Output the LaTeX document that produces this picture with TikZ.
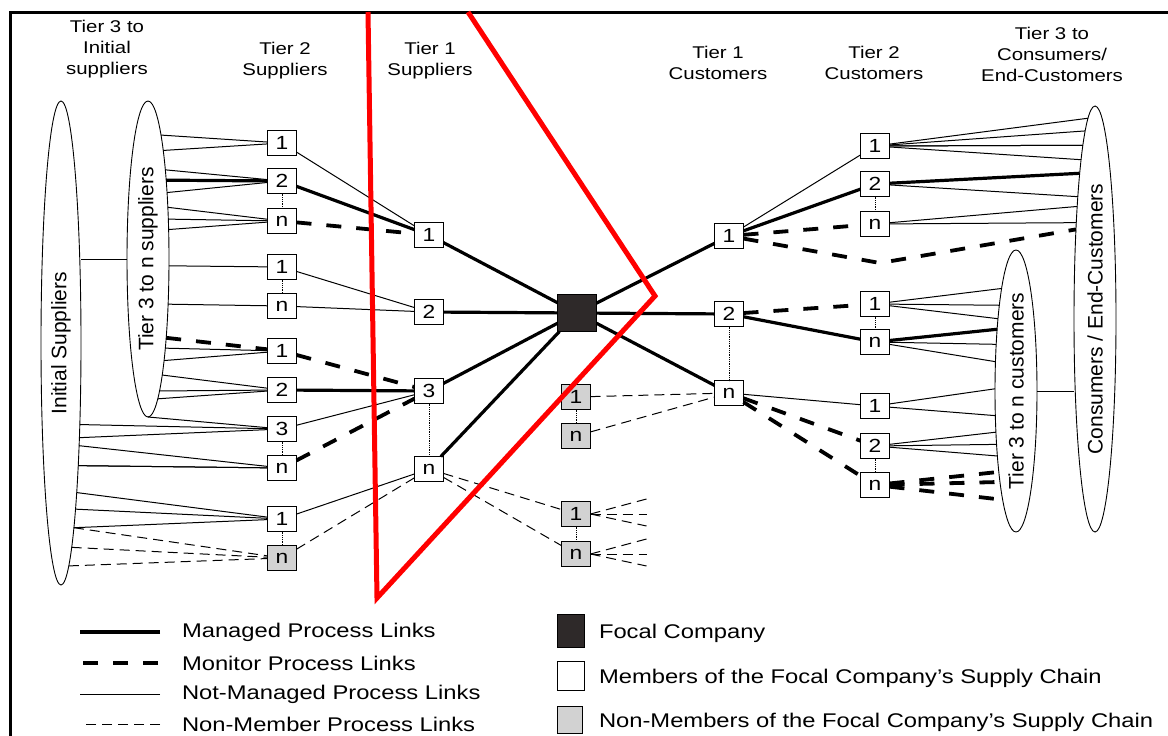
\documentclass[tikz,border=0pt]{standalone}
\usepackage{graphicx}
\usepackage{fontspec}
\setmainfont{Liberation Sans}[FakeStretch=1.2]
\newfontfamily\ellfont{Liberation Sans}
\usetikzlibrary{shapes.geometric}
\definecolor{focalgrey}{HTML}{2E2929}
\definecolor{nonmembergrey}{HTML}{D2D2D2}
\tikzset{every node/.style={inner sep=0pt, outer sep=0pt},
  member/.style={draw, fill=white, line width=0.9pt, minimum width=29pt, minimum height=25pt, font=\fontsize{19}{19}\selectfont},
  nonmember/.style={member, fill=nonmembergrey},
  focal/.style={draw, fill=focalgrey, minimum width=39pt, minimum height=37pt},
  tierset/.style={draw, ellipse, line width=0.9pt, minimum width=42pt, font=\ellfont\fontsize{21}{21}\selectfont},
  heading/.style={align=center, font=\fontsize{17}{21}\selectfont},
  legendtext/.style={anchor=west, font=\fontsize{19.8}{19.8}\selectfont},
  managed/.style={line width=3.2pt},
  monitor/.style={line width=3.8pt, dash pattern=on 15pt off 15pt},
  notmanaged/.style={line width=1pt},
  nonmemberlink/.style={line width=1pt, dash pattern=on 10pt off 6pt},
  tierdots/.style={line width=0.8pt, densely dotted}}

\begin{document}
\begin{tikzpicture}[x=1pt, y=-1pt,
  declare function={elang(\ey,\ea,\eb)=atan2(\ey,\ea*sqrt(1-(\ey/\eb)*(\ey/\eb)));}]
  \useasboundingbox (0,0) rectangle (1168,736);
  \draw[line width=3pt] (10,736) -- (10,12) -- (1168,12);

  % column headings
  \node[heading] (hinit) at (107,49) {Tier 3 to\\Initial\\suppliers};
  \node[heading] (hsup2) at (285,61) {Tier 2\\Suppliers};
  \node[heading] (hsup1) at (430,61) {Tier 1\\Suppliers};
  \node[heading] (hcus1) at (718,63) {Tier 1\\Customers};
  \node[heading] (hcus2) at (874,63) {Tier 2\\Customers};
  \node[heading] (hend) at (1052,54) {Tier 3 to\\Consumers/\\End-Customers};

  % tier sets
  \node[tierset, minimum width=40pt, minimum height=484pt] (isup) at (61,343) {\rotatebox{90}{Initial Suppliers}};
  \node[tierset, minimum height=316pt] (t3s) at (148,259) {\rotatebox{90}{Tier 3 to n suppliers}};
  \node[tierset, minimum height=282pt] (t3c) at (1016,391) {\rotatebox{90}{Tier 3 to n customers}};
  \node[tierset, minimum height=426pt] (cons) at (1095,319) {\rotatebox{90}{Consumers / End-Customers}};

  % companies
  \foreach \n/\t/\y in {s2a/1/143, s2b/2/181, s2c/n/221, s2d/1/267, s2e/n/306, s2f/1/351, s2g/2/390, s2h/3/429, s2i/n/468, s2j/1/519}
    \node[member] (\n) at (282,\y) {\t};
  \node[nonmember] (s2k) at (282,558) {n};
  \foreach \n/\t/\y in {s1a/1/235, s1b/2/312, s1c/3/391, s1d/n/469}
    \node[member] (\n) at (429,\y) {\t};
  \node[focal] (focal) at (577,313) {};
  \foreach \n/\t/\y in {g1/1/397, g2/n/436, g3/1/514, g4/n/554}
    \node[nonmember] (\n) at (576,\y) {\t};
  \foreach \n/\t/\y in {c1a/1/236, c1b/2/314, c1c/n/393}
    \node[member] (\n) at (729,\y) {\t};
  \foreach \n/\t/\y in {c2a/1/146, c2b/2/184, c2c/n/224, c2d/1/304, c2e/n/342, c2f/1/406, c2g/2/446, c2h/n/485}
    \node[member] (\n) at (875,\y) {\t};
  \coordinate (dip) at (880,263);

  % supplier side
  \draw[notmanaged] (t3s.west) -- (t3s.west -| isup.east);
  \foreach \b/\h in {s2a/131, s2a/113, s2b/93, s2b/69, s2c/53, s2c/40, s2c/30, s2d/-7, s2e/-47, s2f/-93, s2f/-103, s2g/-119, s2g/-132, s2g/-144} {
    \pgfmathsetmacro\ang{elang(\h,21,158)}
    \draw[notmanaged] (t3s.\ang) -- (\b);}
  \pgfmathsetmacro\ang{elang(79,21,158)}
  \draw[managed] (t3s.\ang) -- (s2b);
  \pgfmathsetmacro\ang{elang(-79,21,158)}
  \draw[monitor] (t3s.\ang) -- (s2f);
  \draw[notmanaged] (t3s.south) -- (s2h);
  \foreach \b/\h in {s2h/-86, s2h/-97, s2i/-110, s2i/-123, s2i/-133, s2j/-161, s2j/-175, s2j/-186} {
    \pgfmathsetmacro\ang{elang(\h,20,242)}
    \draw[notmanaged] (isup.\ang) -- (\b);}
  \foreach \h in {-201, -216, -229} {
    \pgfmathsetmacro\ang{elang(\h,20,242)}
    \draw[nonmemberlink] (isup.\ang) -- (s2k);}

  % links between companies
  \foreach \p/\q in {s2a/s1a, s2d/s1b, s2e/s1b, s2h/s1c, s2j/s1d, c1a/c2a, c1c/c2f}
    \draw[notmanaged] (\p) -- (\q);
  \foreach \p/\q in {s2b/s1a, s2g/s1c, s1a/focal, s1b/focal, s1c/focal, s1d/focal, focal/c1a, focal/c1b, focal/c1c, c1a/c2b, c1b/c2e}
    \draw[managed] (\p) -- (\q);
  \foreach \p/\q in {s2c/s1a, s2f/s1c, s2i/s1c, c1a/c2c, c1b/c2d, c1c/c2g, c1c/c2h}
    \draw[monitor] (\p) -- (\q);
  \foreach \p/\q in {s2k/s1d, s1d/g3, s1d/g4, g1/c1c, g2/c1c}
    \draw[nonmemberlink] (\p) -- (\q);
  \foreach \p/\q in {s2b/s2c, s2d/s2e, s2h/s2i, s2j/s2k, s1c/s1d, g1/g2, g3/g4, c1b/c1c, c2b/c2c, c2d/c2e, c2g/c2h}
    \draw[tierdots] (\p) -- (\q);
  \foreach \g in {g3, g4}
    \foreach \h in {-15, 0, 12}
      \draw[nonmemberlink] (\g.east) -- ++(56,\h);

  % customer side
  \draw[notmanaged] (t3c.east) -- (t3c.east -| cons.west);
  \foreach \b/\h in {c2a/192, c2a/183, c2a/173, c2a/163, c2a/149, c2b/122, c2c/112, c2c/95} {
    \pgfmathsetmacro\ang{180-elang(\h,21,213)}
    \draw[notmanaged] (\b) -- (cons.\ang);}
  \pgfmathsetmacro\ang{180-elang(138,21,213)}
  \draw[managed] (c2b) -- (cons.\ang);
  \pgfmathsetmacro\ang{180-elang(86,21,213)}
  \draw[monitor] (c1a) -- (dip) -- (cons.\ang);
  \foreach \b/\h in {c2d/100, c2d/85, c2d/69, c2e/46, c2e/29, c2f/2, c2f/-25, c2g/-42, c2g/-55, c2g/-67} {
    \pgfmathsetmacro\ang{180-elang(\h,21,141)}
    \draw[notmanaged] (\b) -- (t3c.\ang);}
  \pgfmathsetmacro\ang{180-elang(60,21,141)}
  \draw[managed] (c2e) -- (t3c.\ang);
  \foreach \h in {-82, -96, -111} {
    \pgfmathsetmacro\ang{180-elang(\h,21,141)}
    \draw[monitor] (c2h) -- (t3c.\ang);}

  % legend
  \node[legendtext] (lmanaged) at (182,632) {Managed Process Links};
  \node[legendtext] (lmonitor) at (182,663) {Monitor Process Links};
  \node[legendtext] (lnotmanaged) at (182,694) {Not-Managed Process Links};
  \node[legendtext] (lnonmember) at (182,724) {Non-Member Process Links};
  \draw[managed] ([xshift=-22pt]lmanaged.west) -- ++(-80,0);
  \draw[monitor] ([xshift=-24pt]lmonitor.west) -- ++(-78,0);
  \draw[notmanaged] ([xshift=-22pt]lnotmanaged.west) -- ++(-80,0);
  \draw[nonmemberlink] ([xshift=-22pt]lnonmember.west) -- ++(-80,0);
  \node[focal, minimum width=27pt, minimum height=33pt] (lfocal) at (571,631) {};
  \node[member, minimum width=27pt, minimum height=29pt] (lmember) at (571,676) {};
  \node[nonmember, minimum width=25pt, minimum height=27pt] (lnonmem) at (570,720) {};
  \node[legendtext] (tfocal) at (599,633) {Focal Company};
  \node[legendtext] (tmember) at (599,678) {Members of the Focal Company's Supply Chain};
  \node[legendtext] (tnonmem) at (599,722) {Non-Members of the Focal Company's Supply Chain};

  % marking
  \draw[red, line width=5pt] (368,12) -- (377,598) -- (655,296) -- (468,12);
\end{tikzpicture}
\end{document}
